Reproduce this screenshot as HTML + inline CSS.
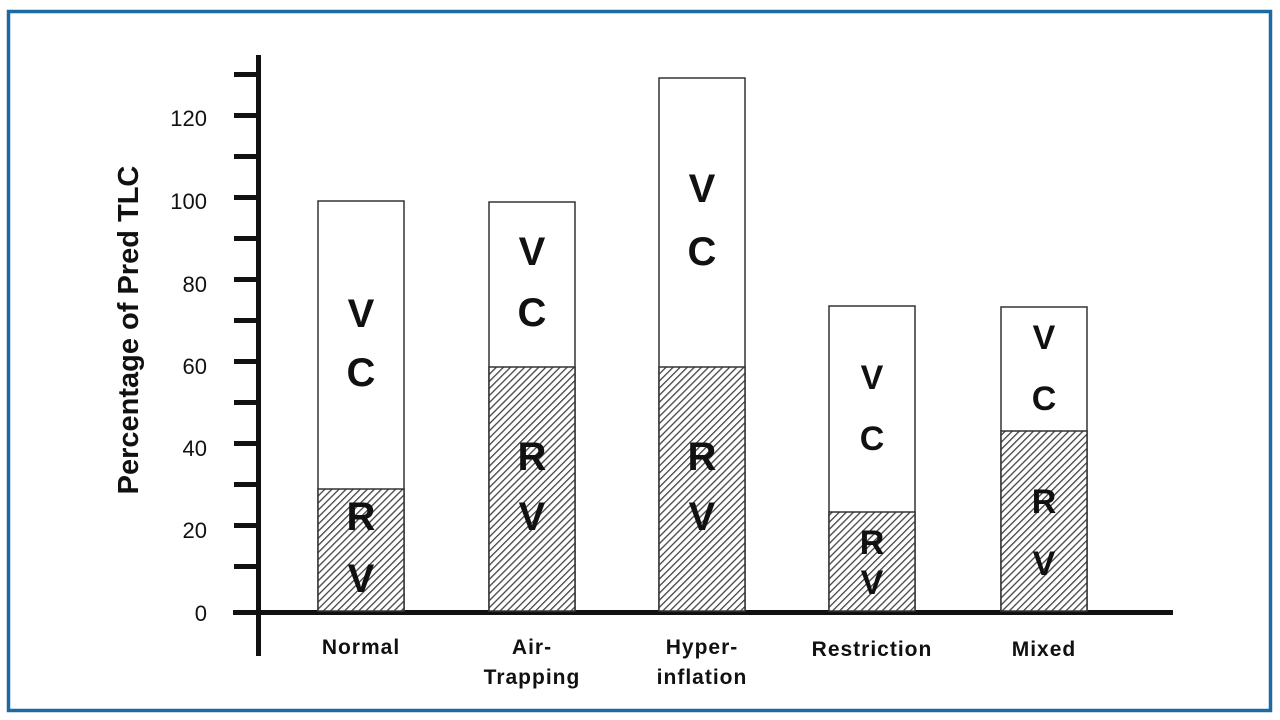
<!DOCTYPE html>
<html><head><style>
body{margin:0;background:#fff;}
svg{display:block}
text{font-family:"Liberation Sans",Arial,sans-serif;fill:#111}
</style></head><body>
<svg width="1280" height="720" viewBox="0 0 1280 720">
<defs>
<pattern id="h" patternUnits="userSpaceOnUse" width="5" height="5" patternTransform="rotate(45)">
<rect width="5" height="5" fill="#fff"/>
<rect x="0" y="0" width="1.3" height="5" fill="#444"/>
</pattern>
</defs>
<rect x="8.5" y="11.5" width="1262" height="699" fill="none" stroke="#1b6aa0" stroke-width="3.5"/>
<rect x="256" y="55" width="5" height="601" fill="#111"/>
<rect x="233" y="610" width="940" height="5" fill="#111"/>
<g fill="#111">
<rect x="234" y="72" width="24" height="5"/>
<rect x="234" y="113" width="24" height="5"/>
<rect x="234" y="154" width="24" height="5"/>
<rect x="234" y="195" width="24" height="5"/>
<rect x="234" y="236" width="24" height="5"/>
<rect x="234" y="277" width="24" height="5"/>
<rect x="234" y="318" width="24" height="5"/>
<rect x="234" y="359" width="24" height="5"/>
<rect x="234" y="400" width="24" height="5"/>
<rect x="234" y="441" width="24" height="5"/>
<rect x="234" y="482" width="24" height="5"/>
<rect x="234" y="523" width="24" height="5"/>
<rect x="234" y="564" width="24" height="5"/>
</g>
<g font-size="22" text-anchor="end">
<text x="207" y="126">120</text>
<text x="207" y="209">100</text>
<text x="207" y="292">80</text>
<text x="207" y="374">60</text>
<text x="207" y="456">40</text>
<text x="207" y="538">20</text>
<text x="207" y="621">0</text>
</g>
<text transform="translate(138,330) rotate(-90)" text-anchor="middle" font-size="29" font-weight="bold">Percentage of Pred TLC</text>
<g stroke="#333" stroke-width="1.5">
<rect x="318" y="201" width="86" height="410" fill="#fff"/>
<rect x="318" y="489" width="86" height="122" fill="url(#h)"/>
<rect x="489" y="202" width="86" height="409" fill="#fff"/>
<rect x="489" y="367" width="86" height="244" fill="url(#h)"/>
<rect x="659" y="78" width="86" height="533" fill="#fff"/>
<rect x="659" y="367" width="86" height="244" fill="url(#h)"/>
<rect x="829" y="306" width="86" height="305" fill="#fff"/>
<rect x="829" y="512" width="86" height="99" fill="url(#h)"/>
<rect x="1001" y="307" width="86" height="304" fill="#fff"/>
<rect x="1001" y="431" width="86" height="180" fill="url(#h)"/>
</g>
<g font-size="40" text-anchor="middle" font-weight="bold">
<text x="361" y="327">V</text><text x="361" y="386">C</text>
<text x="361" y="530">R</text><text x="361" y="592">V</text>
<text x="532" y="265">V</text><text x="532" y="326">C</text>
<text x="532" y="470">R</text><text x="532" y="530">V</text>
<text x="702" y="202">V</text><text x="702" y="265">C</text>
<text x="702" y="470">R</text><text x="702" y="530">V</text>
</g>
<g font-size="34" text-anchor="middle" font-weight="bold">
<text x="872" y="389">V</text><text x="872" y="450">C</text>
<text x="872" y="554">R</text><text x="872" y="594">V</text>
<text x="1044" y="349">V</text><text x="1044" y="410">C</text>
<text x="1044" y="513">R</text><text x="1044" y="575">V</text>
</g>
<g font-size="21" text-anchor="middle" font-weight="bold" letter-spacing="1">
<text x="361" y="654">Normal</text>
<text x="532" y="654">Air-</text><text x="532" y="684">Trapping</text>
<text x="702" y="654">Hyper-</text><text x="702" y="684">inflation</text>
<text x="872" y="656">Restriction</text>
<text x="1044" y="656">Mixed</text>
</g>
</svg>
</body></html>
